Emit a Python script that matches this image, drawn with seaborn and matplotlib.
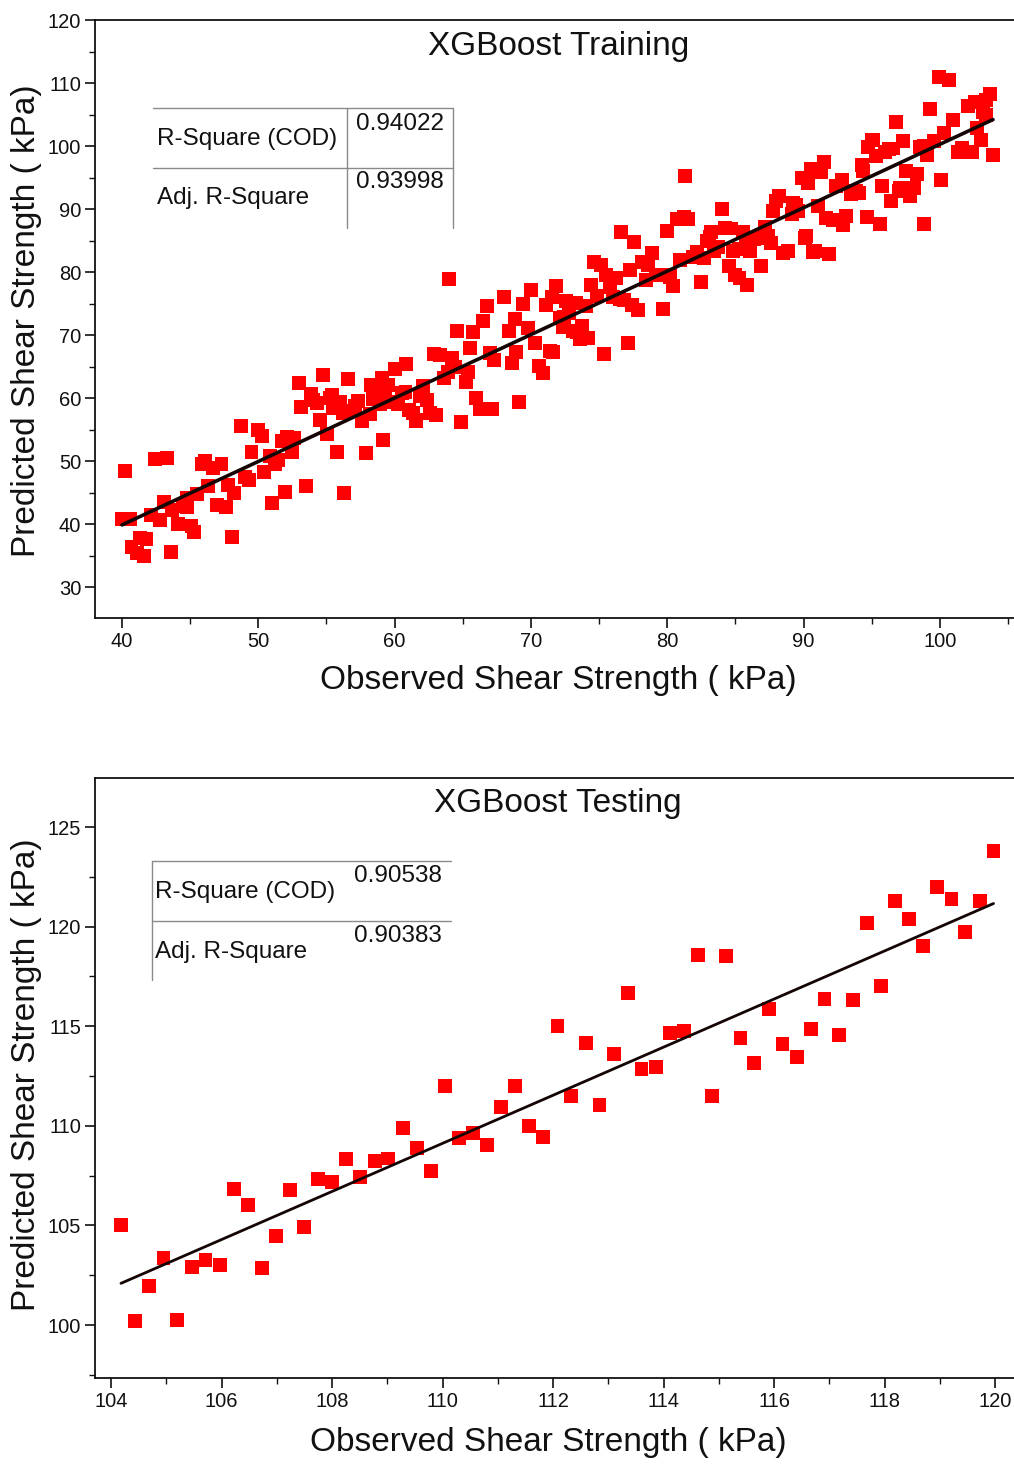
import matplotlib
matplotlib.use("Agg")
import matplotlib.pyplot as plt
import seaborn as sns
import pandas as pd
from matplotlib.lines import Line2D
from matplotlib.ticker import MultipleLocator

# ---------------- data ----------------
train_obs = [
    40.2, 40.0, 40.6, 40.7, 41.1, 41.3, 41.6, 41.8, 42.1, 42.4, 42.8, 43.3, 43.1, 43.6, 43.7, 44.1,
    44.5, 44.8, 44.8, 45.1, 45.3, 45.5, 45.9, 46.1, 46.3, 46.7, 47.3, 47.0, 47.6, 47.8, 48.1, 48.2,
    48.7, 49.0, 49.3, 49.5,
    49.98, 50.27, 50.42, 50.86, 51.0, 51.22, 51.45, 51.74, 51.96, 52.1, 52.47, 52.62, 52.99, 53.13,
    53.5, 53.87, 54.01, 54.3, 54.53, 54.75, 55.04, 55.26, 55.48, 55.77, 56.0, 56.29, 56.58, 56.8,
    57.09, 57.31, 57.6, 57.9, 58.2, 58.41, 58.71, 58.93, 59.08, 59.15, 59.52, 59.66,
    55.4, 56.2, 58.3, 59.3, 60.8, 61.6,
    60.03, 60.25, 60.54, 60.84, 61.06, 61.35, 61.57, 61.86, 62.08, 62.38, 62.6, 62.89, 63.04, 63.33,
    63.62, 63.92, 63.99, 64.21, 64.43, 64.58, 64.87, 65.24, 65.38, 65.53, 65.75, 65.97, 66.27, 66.49,
    66.78, 67.0, 67.15, 67.29, 68.03, 68.39, 68.61, 68.83, 68.91, 69.13, 69.42, 69.79,
    70.0, 70.3, 70.59, 70.89, 71.1, 71.4, 71.55, 71.84, 72.13, 72.35, 72.58, 72.8, 73.09, 73.31,
    73.6, 73.75, 74.04, 74.41, 74.63, 74.85, 75.14, 75.36, 75.51, 75.8, 76.02, 76.24, 76.61, 76.83,
    77.12, 77.27, 77.56, 77.86, 78.15, 78.44, 78.88, 79.18, 79.47, 79.69,
    72.4, 73.4, 74.2, 71.65, 76.5, 77.4, 78.6, 80.2, 83.1, 84.7, 85.3, 86.1, 86.7, 88.2,
    79.99, 80.21, 80.43, 80.72, 80.94, 81.23, 81.31, 81.53, 81.89, 82.19, 82.48, 82.7, 82.92, 83.21,
    83.43, 83.73, 84.02, 84.24, 84.53, 84.83, 84.97, 85.85, 85.26, 85.56, 85.78, 86.07, 86.37, 86.88,
    87.17, 87.4, 87.62, 87.98, 87.76, 88.5, 88.86, 89.16, 89.45, 89.6, 89.89,
    90.11, 90.33, 90.55, 90.84, 91.06, 91.28, 91.5, 91.65, 91.87, 92.16, 92.38, 92.9, 93.12, 93.48,
    93.85, 94.07, 94.37, 94.66, 94.73, 95.1, 95.32, 95.61, 95.76, 95.98, 96.27, 96.42, 96.79, 97.0,
    97.3, 97.52, 97.81, 98.11, 98.33, 98.84, 98.55, 99.28, 99.06, 99.94, 99.57, 100.09, 100.67, 100.31,
    100.97, 101.33, 101.63, 102.07, 102.36, 102.58, 102.73, 103.02, 103.17, 103.68, 103.9, 103.39,
    95.0, 96.6, 97.1, 94.3, 92.8, 89.25, 90.2, 90.7, 103.4, 98.8,
]
train_pred = [
    48.4, 40.8, 40.8, 36.3, 35.4, 37.8, 34.9, 37.6, 41.4, 50.3, 40.6, 50.5, 43.5, 35.6, 42.2, 40.0,
    42.9, 44.1, 42.7, 39.7, 38.7, 44.8, 49.5, 50.0, 46.0, 48.9, 49.5, 43.0, 42.7, 46.2, 37.9, 44.9,
    55.6, 47.5, 47.0, 51.4,
    54.9, 54.0, 48.3, 50.8, 43.3, 49.5, 50.2, 53.2, 45.1, 53.8, 51.4, 53.6, 62.4, 58.6,
    46.0, 60.6, 59.7, 59.2, 56.5, 63.7, 54.3, 60.0, 58.4, 51.4, 59.4, 44.9, 63.0, 57.9,
    58.7, 59.5, 56.3, 51.3, 57.5, 59.8, 61.6, 59.0, 63.2, 53.3, 62.1, 59.4,
    60.5, 57.6, 62.1, 60.7, 61.0, 56.5,
    64.6, 59.0, 60.8, 65.4, 58.1, 57.6, 56.3, 60.3, 61.9, 59.7, 57.6, 67.0, 57.3, 66.8,
    63.2, 64.1, 78.9, 66.3, 64.9, 70.6, 56.2, 62.5, 64.1, 67.9, 70.5, 60.0, 58.3, 72.2,
    74.6, 67.1, 58.3, 66.0, 76.0, 70.6, 65.6, 72.5, 67.3, 59.4, 74.9, 71.1,
    77.1, 68.7, 65.1, 64.0, 74.8, 67.5, 76.0, 77.8, 72.7, 71.3, 75.4, 73.5, 70.6, 75.1,
    69.4, 71.4, 74.6, 77.9, 81.6, 76.2, 81.1, 67.0, 79.5, 77.6, 76.0, 79.0, 86.3, 75.6,
    68.7, 80.3, 84.8, 74.0, 81.6, 78.7, 83.0, 79.5, 79.5, 74.1,
    72.9, 70.5, 69.5, 67.3, 75.7, 74.8, 81.1, 79.5, 85.6, 86.9, 79.0, 84.0, 85.4, 92.0,
    86.5, 79.2, 77.8, 88.4, 81.9, 88.7, 95.2, 88.4, 82.4, 83.2, 78.4, 82.2, 84.9, 86.3,
    83.3, 84.0, 90.0, 87.0, 81.0, 83.3, 79.5, 77.9, 83.7, 86.3, 84.9, 83.3, 85.2, 81.0,
    87.1, 85.7, 84.6, 91.3, 89.7, 83.0, 83.3, 89.2, 90.6, 89.7, 94.9,
    85.4, 94.1, 96.3, 83.3, 90.5, 95.9, 97.5, 88.6, 82.9, 88.3, 93.7, 87.5, 88.9, 92.4,
    92.9, 92.5, 96.0, 88.7, 99.8, 101.0, 98.4, 87.6, 93.7, 99.0, 99.5, 91.3, 103.8, 92.9,
    100.8, 96.0, 92.1, 93.3, 95.6, 87.6, 99.8, 105.9, 98.6, 111.0, 100.8, 94.6, 110.5, 102.1,
    104.1, 99.0, 99.7, 106.3, 99.0, 107.0, 102.9, 101.0, 105.4, 108.3, 98.6, 107.3,
    101.0, 99.6, 93.3, 97.0, 94.6, 90.9, 85.7, 83.2, 104.9, 100.0,
]

test_obs = [
    104.18, 104.44, 104.69, 104.95, 105.20, 105.46, 105.71, 105.97, 106.22, 106.48,
    106.73, 106.99, 107.24, 107.49, 107.75, 108.00, 108.26, 108.51, 108.77, 109.02,
    109.28, 109.53, 109.79, 110.04, 110.30, 110.55, 110.80, 111.06, 111.31, 111.57,
    111.82, 112.08, 112.33, 112.59, 112.84, 113.10, 113.35, 113.60, 113.86, 114.11,
    114.37, 114.62, 114.88, 115.13, 115.39, 115.64, 115.90, 116.15, 116.41, 116.66,
    116.91, 117.17, 117.42, 117.68, 117.93, 118.19, 118.44, 118.70, 118.95, 119.21,
    119.46, 119.72, 119.97,
]
test_pred = [
    105.0, 100.18, 101.96, 103.37, 100.27, 102.92, 103.28, 103.03, 106.84, 106.02,
    102.86, 104.49, 106.79, 104.92, 107.34, 107.19, 108.32, 107.43, 108.22, 108.36,
    109.87, 108.89, 107.73, 112.0, 109.39, 109.66, 109.05, 110.93, 112.0, 110.01,
    109.44, 115.01, 111.51, 114.16, 111.04, 113.59, 116.65, 112.83, 112.97, 114.64,
    114.74, 118.59, 111.48, 118.52, 114.39, 113.17, 115.88, 114.12, 113.45, 114.84,
    116.38, 114.54, 116.3, 120.2, 117.0, 121.29, 120.37, 119.03, 121.97, 121.4,
    119.75, 121.27, 123.78,
]

titles = ["XGBoost Training", "XGBoost Testing"]
stat_names = ["R-Square (COD)", "Adj. R-Square"]
train_stats = ["0.94022", "0.93998"]
test_stats = ["0.90538", "0.90383"]
train_xticks = [40, 50, 60, 70, 80, 90, 100]
train_yticks = [30, 40, 50, 60, 70, 80, 90, 100, 110, 120]
test_xticks = [104, 106, 108, 110, 112, 114, 116, 118, 120]
test_yticks = [100, 105, 110, 115, 120, 125]
xlabel = "Observed Shear Strength ( kPa)"
ylabel = "Predicted Shear Strength ( kPa)"

# ---------------- style ----------------
sns.set_theme(style="ticks")
plt.rcParams["font.family"] = ["Liberation Sans", "DejaVu Sans"]
TICKFONT = ["Liberation Sans Narrow", "Liberation Sans", "DejaVu Sans"]

W, H = 1014, 1464
fig = plt.figure(figsize=(W / 100, H / 100), dpi=100)
fig.patch.set_facecolor("white")


def fx(p):
    return p / W


def fy(p):
    return 1 - p / H


ax1 = fig.add_axes([fx(95), fy(618), (W - 95) / W, 598 / H])
ax2 = fig.add_axes([fx(95), fy(1378), (W - 95) / W, 600 / H])

df_train = pd.DataFrame({"obs": train_obs, "pred": train_pred})
df_test = pd.DataFrame({"obs": test_obs, "pred": test_pred})

panels = [
    (ax1, df_train, (38.02, 105.44), (25.08, 120.0), train_xticks, train_yticks, 5, 5, titles[0], 2.6, 0.955),
    (ax2, df_test, (103.71, 120.34), (97.34, 127.46), test_xticks, test_yticks, 1, 2.5, titles[1], 2.0, 0.958),
]

for ax, df, xl, yl, xt, yt, xmin, ymin, title, lw, ty in panels:
    ax.set_facecolor("white")
    sns.scatterplot(data=df, x="obs", y="pred", marker="s", s=100, color="#ff0000",
                    edgecolor="none", linewidth=0, ax=ax, zorder=2, legend=False)
    sns.regplot(data=df, x="obs", y="pred", scatter=False, ci=None, truncate=True,
                line_kws=dict(color="#140404", lw=lw, zorder=3), ax=ax)
    ax.set_xlim(*xl)
    ax.set_ylim(*yl)
    ax.set_xticks(xt, [str(v) for v in xt], fontfamily=TICKFONT, fontsize=14.5)
    ax.set_yticks(yt, [str(v) for v in yt], fontfamily=TICKFONT, fontsize=14.5)
    ax.xaxis.set_minor_locator(MultipleLocator(xmin))
    ax.yaxis.set_minor_locator(MultipleLocator(ymin))
    ax.tick_params(which="major", direction="out", length=7, width=1.2, colors="#111111", pad=3)
    ax.tick_params(which="minor", direction="out", length=4, width=1.0, colors="#111111")
    for side in ["left", "bottom", "top"]:
        ax.spines[side].set_visible(True)
        ax.spines[side].set_linewidth(1.3)
        ax.spines[side].set_color("#111111")
    ax.spines["right"].set_visible(False)
    ax.set_xlabel(xlabel, fontsize=24, color="#111111")
    ax.set_ylabel(ylabel, fontsize=24, color="#111111")
    ax.xaxis.label.set_va("center")
    ax.yaxis.label.set_va("center")
    ax.text(0.504, ty, title, transform=ax.transAxes, ha="center", va="center",
            fontsize=24, color="#111111")

ax1.xaxis.set_label_coords(0.504, -0.105)
ax1.yaxis.set_label_coords(-0.074, 0.498)
ax2.xaxis.set_label_coords(0.493, -0.107)
ax2.yaxis.set_label_coords(-0.074, 0.505)

# ---------------- statistics tables ----------------
LC = "#8a8a8a"
TS = 17.5


def hline(y, x0, x1):
    fig.add_artist(Line2D([fx(x0), fx(x1)], [fy(y), fy(y)], color=LC, lw=1.0))


def vline(x, y0, y1):
    fig.add_artist(Line2D([fx(x), fx(x)], [fy(y0), fy(y1)], color=LC, lw=1.0))


# training table
hline(108, 153, 453)
hline(168, 153, 453)
vline(347, 108, 228)
vline(453, 108, 228)
fig.text(fx(157), fy(139), stat_names[0], ha="left", va="center", fontsize=TS, color="#111111")
fig.text(fx(157), fy(198), stat_names[1], ha="left", va="center", fontsize=TS, color="#111111")
fig.text(fx(356), fy(124), train_stats[0], ha="left", va="center", fontsize=TS, color="#111111")
fig.text(fx(356), fy(182), train_stats[1], ha="left", va="center", fontsize=TS, color="#111111")

# testing table
hline(861, 152, 451)
hline(921, 152, 451)
vline(152, 861, 980)
fig.text(fx(155), fy(892), stat_names[0], ha="left", va="center", fontsize=TS, color="#111111")
fig.text(fx(155), fy(952), stat_names[1], ha="left", va="center", fontsize=TS, color="#111111")
fig.text(fx(354), fy(876), test_stats[0], ha="left", va="center", fontsize=TS, color="#111111")
fig.text(fx(354), fy(936), test_stats[1], ha="left", va="center", fontsize=TS, color="#111111")

fig.savefig("out.png", dpi=100, facecolor="white")
